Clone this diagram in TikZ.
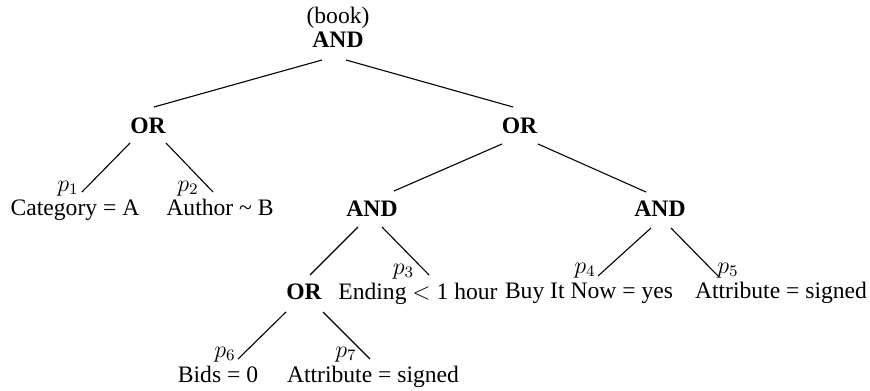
\documentclass[tikz,border=0pt]{standalone}
\usepackage{fontspec}
\setmainfont{Liberation Serif}
\begin{document}
\begin{tikzpicture}[x=0.5pt,y=-0.5pt,
  every node/.style={inner sep=0pt,anchor=base,font=\fontsize{11.8}{14}\selectfont},
  op/.style={font=\fontsize{11.8}{14}\selectfont\bfseries},
  pred/.style={},
  plabel/.style={},
  edge/.style={line width=0.55pt}]
\useasboundingbox (0,0) rectangle (870,390);

% operator nodes
\node (book) at (338,24) {(book)};
\node[op] (root) at (338,48) {AND};
\node[op] (orL) at (148,133) {OR};
\node[op] (orR) at (519.5,133) {OR};
\node[op] (andM) at (372,216) {AND};
\node[op] (andR) at (660,216) {AND};
\node[op] (orB) at (304,299) {OR};

% predicates
\node[pred] (catA) at (75,215) {Category = A};
\node[pred] (authB) at (220,215) {Author \textasciitilde{} B};
\node[pred] (ending) at (418,299) {Ending $<$ 1 hour};
\node[pred] (buy) at (589,298) {Buy It Now = yes};
\node[pred] (attrR) at (781,298) {Attribute = signed};
\node[pred] (bids) at (218,382) {Bids = 0};
\node[pred] (attrB) at (373,382) {Attribute = signed};

% predicate labels
\node[plabel] (p1) at (68,191) {$p_1$};
\node[plabel] (p2) at (188,191) {$p_2$};
\node[plabel] (p3) at (403.5,274) {$p_3$};
\node[plabel] (p4) at (585,273) {$p_4$};
\node[plabel] (p5) at (728,273) {$p_5$};
\node[plabel] (p6) at (225,357) {$p_6$};
\node[plabel] (p7) at (346,357) {$p_7$};

% edge end points
\coordinate (root-l) at (322,60);
\coordinate (root-r) at (346,60);
\coordinate (orL-in) at (154,107);
\coordinate (orR-in) at (513,107);
\coordinate (orL-l) at (130,143);
\coordinate (orL-r) at (166,143);
\coordinate (p1-in) at (82,192);
\coordinate (p2-in) at (213,192);
\coordinate (orR-l) at (502,144);
\coordinate (orR-r) at (538,144);
\coordinate (andM-in) at (394,191);
\coordinate (andR-in) at (646,192);
\coordinate (andM-l) at (358,227);
\coordinate (andM-r) at (382,227);
\coordinate (orB-in) at (310,275);
\coordinate (p3-in) at (429,275);
\coordinate (andR-l) at (651,228);
\coordinate (andR-r) at (671,228);
\coordinate (p4-in) at (598,276);
\coordinate (p5-in) at (718,276);
\coordinate (orB-l) at (286,312);
\coordinate (orB-r) at (323,312);
\coordinate (p6-in) at (238,359);
\coordinate (p7-in) at (370,359);

% tree edges
\draw[edge] (root-l) -- (orL-in);
\draw[edge] (root-r) -- (orR-in);
\draw[edge] (orL-l) -- (p1-in);
\draw[edge] (orL-r) -- (p2-in);
\draw[edge] (orR-l) -- (andM-in);
\draw[edge] (orR-r) -- (andR-in);
\draw[edge] (andM-l) -- (orB-in);
\draw[edge] (andM-r) -- (p3-in);
\draw[edge] (andR-l) -- (p4-in);
\draw[edge] (andR-r) -- (p5-in);
\draw[edge] (orB-l) -- (p6-in);
\draw[edge] (orB-r) -- (p7-in);
\end{tikzpicture}
\end{document}
